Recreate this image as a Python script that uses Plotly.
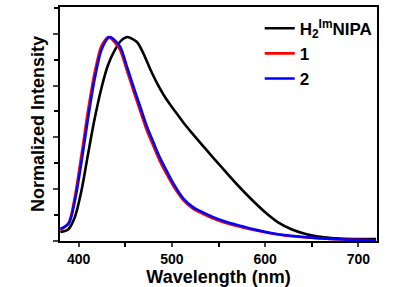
import plotly.graph_objects as go

# Wavelength (nm) sample points and normalized intensities
wl_h2 = [380.4, 388.7, 395.9, 403.0, 410.1, 417.3, 424.4, 431.5, 438.6, 445.8, 452.5, 462.5,
         469.5, 476.7, 483.9, 490.9, 498.1, 505.2, 512.3, 523.0, 537.3, 551.6, 569.4, 585.5,
         599.7, 613.9, 628.2, 642.5, 656.7, 671.0, 685.2, 699.5, 719.0]
int_h2 = [0.043, 0.056, 0.115, 0.243, 0.420, 0.593, 0.737, 0.849, 0.920, 0.968, 0.984, 0.960,
          0.904, 0.830, 0.763, 0.707, 0.658, 0.615, 0.572, 0.513, 0.438, 0.365, 0.275, 0.200,
          0.140, 0.090, 0.057, 0.035, 0.021, 0.014, 0.011, 0.010, 0.010]

wl_1 = [380.4, 389.3, 396.0, 403.2, 410.1, 417.3, 424.4, 431.5, 434.0, 438.8, 444.7, 451.8,
        458.8, 466.0, 473.2, 480.2, 487.4, 494.5, 501.6, 512.3, 523.0, 530.0, 544.4, 556.9,
        571.0, 583.0, 599.7, 613.9, 628.2, 656.7, 685.2, 719.0]
int_1 = [0.052, 0.088, 0.215, 0.420, 0.630, 0.815, 0.940, 0.984, 0.980, 0.958, 0.920, 0.822,
         0.725, 0.628, 0.533, 0.458, 0.383, 0.322, 0.265, 0.197, 0.155, 0.138, 0.108, 0.088,
         0.071, 0.058, 0.042, 0.031, 0.023, 0.013, 0.007, 0.003]

wl_2 = [380.4, 389.3, 396.0, 403.2, 410.1, 417.3, 424.4, 431.5, 434.0, 438.8, 444.7, 451.8,
        458.8, 466.0, 473.2, 480.2, 487.4, 494.5, 501.6, 512.3, 523.0, 530.0, 544.4, 556.9,
        571.0, 583.0, 599.7, 613.9, 628.2, 656.7, 685.2, 719.0]
int_2 = [0.059, 0.083, 0.195, 0.386, 0.593, 0.785, 0.921, 0.979, 0.984, 0.968, 0.937, 0.841,
         0.745, 0.649, 0.553, 0.476, 0.400, 0.338, 0.278, 0.205, 0.162, 0.145, 0.115, 0.094,
         0.076, 0.062, 0.045, 0.033, 0.025, 0.014, 0.007, 0.003]

names = ["H<sub>2</sub><sup>Im</sup>NIPA", "1", "2"]
colors = ["#000000", "#ff0000", "#0000ff"]

FONT = "Liberation Sans, Arial, sans-serif"

fig = go.Figure()
for wl, y, n, c in [(wl_h2, int_h2, names[0], colors[0]),
                    (wl_1, int_1, names[1], colors[1]),
                    (wl_2, int_2, names[2], colors[2])]:
    fig.add_trace(go.Scatter(x=wl, y=y, name=n, mode="lines",
                             line=dict(color=c, width=2.6, shape="spline", smoothing=0.8)))

fig.update_layout(
    width=398, height=287,
    margin=dict(l=60, r=21, t=5, b=46),
    plot_bgcolor="white", paper_bgcolor="white",
    font=dict(family=FONT, color="black", size=14),
    showlegend=True,
    legend=dict(x=0.63, y=0.984, xanchor="left", yanchor="top",
                bgcolor="rgba(0,0,0,0)", font=dict(size=17, family=FONT, color="black",
                                                   weight="bold"),
                itemwidth=30, tracegroupgap=0),
)
fig.update_xaxes(
    range=[380, 720], tick0=400, dtick=100, ticks="outside", ticklen=4, tickwidth=1.5,
    showline=True, linewidth=1.8, linecolor="black", mirror=True, showgrid=False, zeroline=False,
    tickfont=dict(size=14, family=FONT, weight="bold"),
    title=dict(text="<b>Wavelength (nm)</b>", font=dict(size=18, family=FONT), standoff=0),
    minor=dict(dtick=50, ticks="outside", ticklen=4, tickwidth=1.5, tickcolor="black"),
)
fig.update_yaxes(
    range=[0, 1.129], tick0=0, dtick=0.25, ticks="outside", ticklen=5, tickwidth=1.5,
    showticklabels=False,
    showline=True, linewidth=1.8, linecolor="black", mirror=True, showgrid=False, zeroline=False,
    title=dict(text="<b>Normalized Intensity</b>", font=dict(size=18, family=FONT), standoff=4),
    minor=dict(dtick=0.125, ticks="outside", ticklen=4, tickwidth=1.5, tickcolor="black"),
)

fig.write_html("out.html", config={"displayModeBar": False},
               post_script="document.body.style.margin='0';")
